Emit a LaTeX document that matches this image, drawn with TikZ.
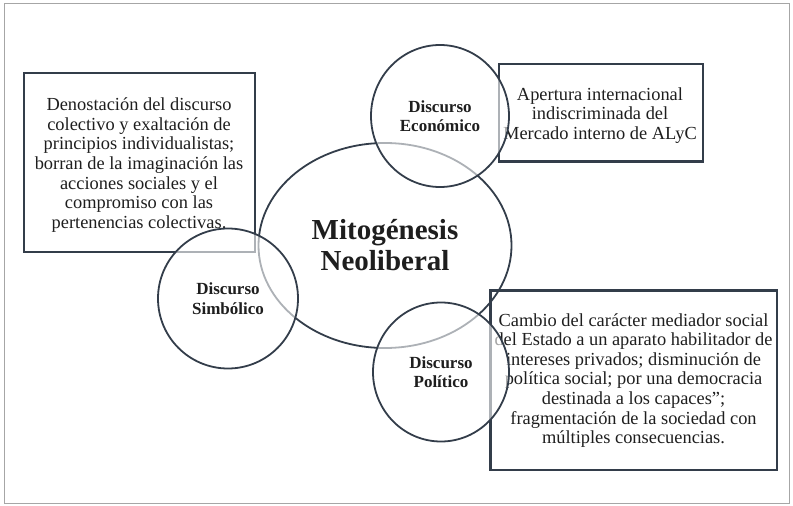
\documentclass[tikz,border=0pt]{standalone}
\usepackage{fontspec}
\setmainfont{Liberation Serif}
\usetikzlibrary{shapes.geometric}
\definecolor{ln}{HTML}{333D4A}
\definecolor{tx}{HTML}{1E1E1E}
\tikzset{
  box/.style={draw=ln, line width=2.2pt, inner sep=0pt},
  boxtext/.style={text=tx, align=center, font=\fontsize{18.4}{19.6}\selectfont, inner sep=0pt},
  bigell/.style={ellipse, draw=ln, line width=1.8pt, inner sep=0pt},
  small/.style={ellipse, draw=ln, line width=1.8pt, fill=white, fill opacity=0.6, text opacity=1, inner sep=0pt, align=center, text=tx, font=\fontsize{17}{19.5}\selectfont\bfseries},
}
\begin{document}
\begin{tikzpicture}[x=1pt,y=-1pt]
\useasboundingbox (0,0) rectangle (793,506);
\draw[gray!70, line width=0.8pt] (4,3) rectangle (789,503);
% boxes
\node[box, minimum width=231, minimum height=179] (bl) at (139.5,162.5) {};
\node[boxtext] (tl) at (139,165) {Denostación del discurso\\colectivo y exaltación de\\principios individualistas;\\borran de la imaginación las\\acciones sociales y el\\compromiso con las\\pertenencias colectivas.};
\node[box, minimum width=203.5, minimum height=97.5] (bt) at (601,112.75) {};
\node[boxtext] (tt) at (600,115.5) {Apertura internacional\\indiscriminada del\\Mercado interno de ALyC};
\node[box, minimum width=286.5, minimum height=179.5] (br) at (633.7,380.2) {};
\node[boxtext] (tr) at (633.5,380.5) {Cambio del carácter mediador social\\del Estado a un aparato habilitador de\\intereses privados; disminución de\\política social; por una democracia\\destinada a los capaces”;\\fragmentación de la sociedad con\\múltiples consecuencias.};
% central
\node[bigell, minimum width=253, minimum height=205, align=center, text=tx, font=\fontsize{29}{31}\selectfont\bfseries] (c) at (385,245.5) {Mitogénesis\\Neoliberal};
% small circles
\node[small, minimum width=138, minimum height=142] (e) at (440,116) {Discurso\\Económico};
\node[small, minimum width=140, minimum height=140] (s) at (228,298.5) {Discurso\\Simbólico};
\node[small, minimum width=136, minimum height=139] (p) at (441,372) {Discurso\\Político};
\end{tikzpicture}
\end{document}
